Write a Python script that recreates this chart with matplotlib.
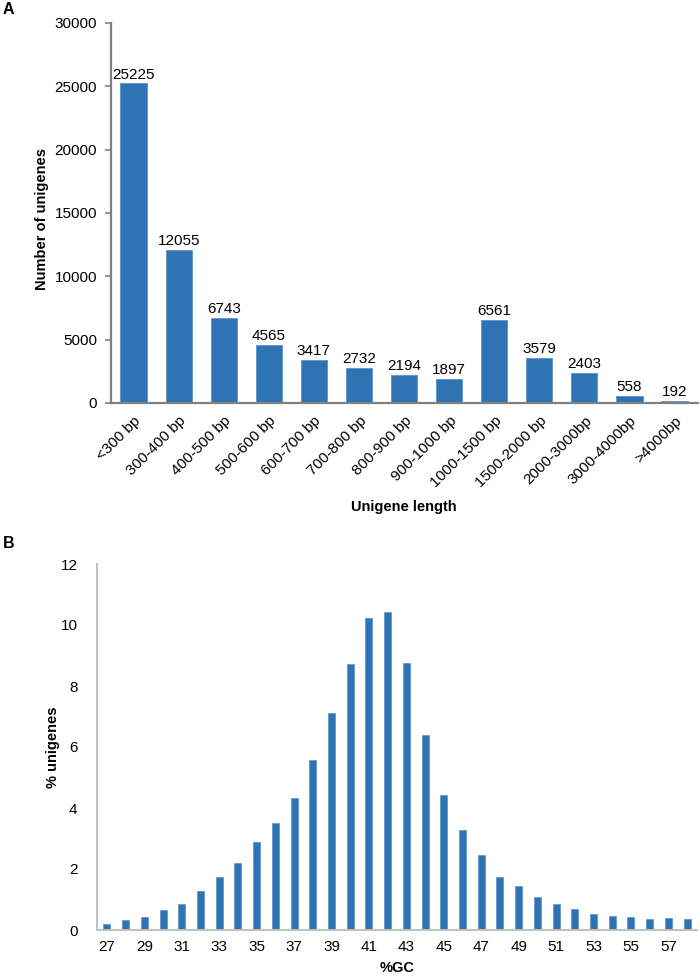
import matplotlib
matplotlib.use('Agg')
import matplotlib.pyplot as plt
import numpy as np

plt.rcParams['font.family'] = ['Liberation Sans', 'DejaVu Sans']

# panel A: unigene length distribution
length_bins = ['<300 bp', '300-400 bp', '400-500 bp', '500-600 bp', '600-700 bp',
               '700-800 bp', '800-900 bp', '900-1000 bp', '1000-1500 bp',
               '1500-2000 bp', '2000-3000bp', '3000-4000bp', '>4000bp']
unigene_counts = [25225, 12055, 6743, 4565, 3417, 2732, 2194, 1897, 6561,
                  3579, 2403, 558, 192]

# panel B: GC content distribution
gc_values = list(range(27, 59))
gc_percent = [0.2, 0.32, 0.44, 0.66, 0.85, 1.28, 1.73, 2.2, 2.88, 3.51,
              4.32, 5.58, 7.1, 8.72, 10.23, 10.42, 8.75, 6.39, 4.43, 3.28,
              2.45, 1.73, 1.43, 1.09, 0.86, 0.69, 0.54, 0.45, 0.42, 0.37,
              0.38, 0.36]
gc_ticks = list(range(27, 58, 2))

bar_color = '#2e74b5'
fs = 11
lab_fs = 10.5
W, H = 700, 977

fig = plt.figure(figsize=(7, 9.77), dpi=100)

# ---- A ----
ax_a = fig.add_axes([111 / W, 1 - 403 / H, 587 / W, 380 / H])
x = np.arange(len(length_bins))
ax_a.bar(x, unigene_counts, width=0.58, color=bar_color, edgecolor='#5b93c9', linewidth=0.6)
for xi, v in zip(x, unigene_counts):
    ax_a.text(xi, v + 150, str(v), ha='center', va='bottom', fontsize=fs)
ax_a.set_xlim(-0.5, 12.52)
ax_a.set_ylim(0, 30000)
ax_a.set_yticks(range(0, 30001, 5000))
ax_a.set_xticks(x)
ax_a.set_xticklabels(length_bins, rotation=45, ha='right', rotation_mode='anchor', fontsize=fs)
ax_a.tick_params(axis='y', direction='out', length=4, width=1.2, color='#808080', labelsize=fs, pad=6)
ax_a.tick_params(axis='x', length=0, pad=8)
for s in ['top', 'right']:
    ax_a.spines[s].set_visible(False)
for s in ['left', 'bottom']:
    ax_a.spines[s].set_color('#808080')
    ax_a.spines[s].set_linewidth(1.6)
fig.text(42 / W, 1 - 219 / H, 'Number of unigenes', rotation=90, ha='center', va='center',
         fontsize=lab_fs, fontweight='bold')
fig.text(404 / W, 1 - 507 / H, 'Unigene length', ha='center', va='center',
         fontsize=lab_fs, fontweight='bold')
fig.text(3 / W, 1 - 10 / H, 'A', ha='left', va='center', fontsize=lab_fs + 1, fontweight='bold')

# ---- B ----
ax_b = fig.add_axes([97 / W, 1 - 930 / H, 600 / W, 366 / H])
ax_b.bar(gc_values, gc_percent, width=0.37, color=bar_color, edgecolor='#5b93c9', linewidth=0.5)
ax_b.set_xlim(26.47, 58.53)
ax_b.set_ylim(0, 12)
ax_b.set_yticks(range(0, 13, 2))
ax_b.set_xticks(gc_ticks)
ax_b.tick_params(axis='both', length=0, labelsize=fs)
ax_b.tick_params(axis='y', pad=14)
ax_b.tick_params(axis='x', pad=7)
for s in ['top', 'right']:
    ax_b.spines[s].set_visible(False)
for s in ['left', 'bottom']:
    ax_b.spines[s].set_color('#c0c0c0')
    ax_b.spines[s].set_linewidth(1.4)
fig.text(53 / W, 1 - 747 / H, '% unigenes', rotation=90, ha='center', va='center',
         fontsize=lab_fs, fontweight='bold')
fig.text(397 / W, 1 - 968 / H, '%GC', ha='center', va='center',
         fontsize=lab_fs, fontweight='bold')
fig.text(3 / W, 1 - 543 / H, 'B', ha='left', va='center', fontsize=lab_fs + 1, fontweight='bold')

fig.savefig('out.png', dpi=100)
